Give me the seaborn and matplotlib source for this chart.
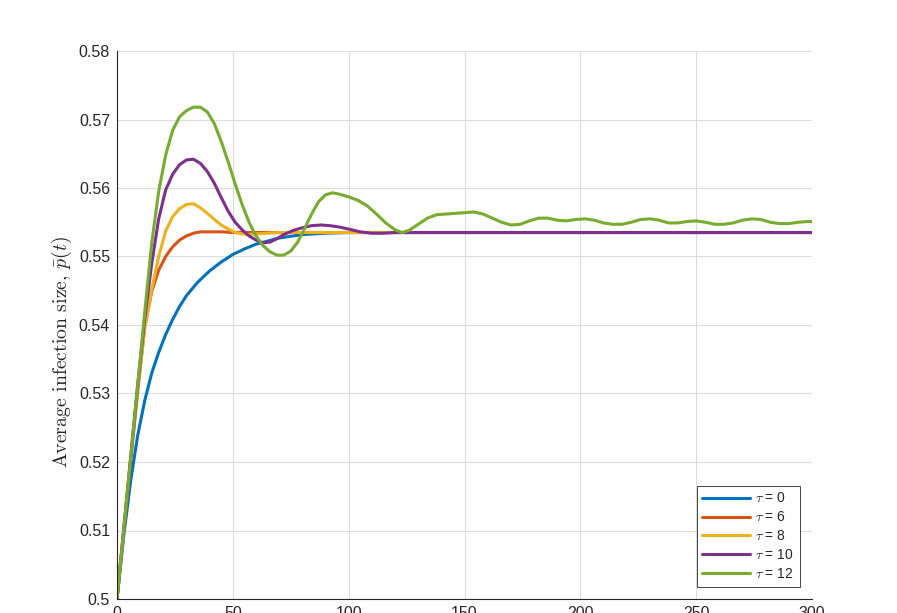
import numpy as np
import pandas as pd
import matplotlib
matplotlib.use("Agg")
import matplotlib.pyplot as plt
from matplotlib.ticker import FuncFormatter, MultipleLocator
import seaborn as sns

# Average infection size p(t) for different delays tau
t_tau0 = [0, 3, 6, 9, 12, 15, 18, 21, 24, 27, 30, 35, 40, 45, 50, 55, 60, 70, 80, 90, 100, 150, 200, 250, 300]
p_tau0 = [0.5000, 0.5095, 0.5175, 0.5240, 0.5290, 0.5330, 0.5360, 0.5386, 0.5408, 0.5427, 0.5443,
          0.5463, 0.5479, 0.5492, 0.5503, 0.5511, 0.5518, 0.5527, 0.5532, 0.5534, 0.5535,
          0.5535, 0.5535, 0.5535, 0.5535]

t_tau6 = [0, 3, 6, 9, 12, 15, 18, 21, 24, 27, 30, 33, 36, 40, 45, 50, 60, 100, 150, 200, 250, 300]
p_tau6 = [0.5000, 0.5102, 0.5204, 0.5305, 0.5398, 0.5449, 0.5480, 0.5500, 0.5514, 0.5524, 0.5530,
          0.5534, 0.5536, 0.5536, 0.5536, 0.5535, 0.5535, 0.5535, 0.5535, 0.5535, 0.5535, 0.5535]

t_tau8 = [0, 3, 6, 9, 12, 15, 18, 21, 24, 27, 30, 33, 36, 39, 42, 45, 48, 51, 54, 57, 60, 65, 70,
          100, 150, 200, 250, 300]
p_tau8 = [0.5000, 0.5105, 0.5210, 0.5310, 0.5395, 0.5452, 0.5500, 0.5537, 0.5558, 0.5570, 0.5576,
          0.5577, 0.5571, 0.5563, 0.5554, 0.5546, 0.5540, 0.5535, 0.5533, 0.5532, 0.5533, 0.5534,
          0.5535, 0.5535, 0.5535, 0.5535, 0.5535, 0.5535]

t_tau10 = [0, 3, 6, 9, 12, 15, 18, 21, 24, 27, 30, 33, 36, 39, 42, 45, 48, 51, 54, 57, 60, 63, 66,
           69, 72, 76, 80, 84, 88, 92, 96, 100, 105, 110, 115, 120, 130, 150, 200, 250, 300]
p_tau10 = [0.5000, 0.5105, 0.5210, 0.5315, 0.5410, 0.5490, 0.5555, 0.5597, 0.5620, 0.5634, 0.5641,
           0.5642, 0.5636, 0.5624, 0.5607, 0.5586, 0.5566, 0.5550, 0.5539, 0.5530, 0.5524, 0.5520,
           0.5521, 0.5526, 0.5532, 0.5538, 0.5542, 0.5545, 0.5546, 0.5545, 0.5543, 0.5540, 0.5536,
           0.5534, 0.5534, 0.5535, 0.5535, 0.5535, 0.5535, 0.5535, 0.5535]

t_tau12 = [0, 3, 6, 9, 12, 15, 18, 21, 24, 27, 30, 33, 36, 39, 42, 45, 48, 51, 54, 57, 60, 63, 66,
           69, 72, 75, 78, 81, 84, 87, 90, 93, 96, 100, 104, 108, 112, 116, 120, 123, 126, 130, 134,
           138, 142, 146, 150, 154, 158, 162, 166, 170, 174, 178, 182, 186, 190, 194, 198, 202, 206,
           210, 214, 218, 222, 226, 230, 234, 238, 242, 246, 250, 254, 258, 262, 266, 270, 274, 278,
           282, 286, 290, 294, 298, 300]
p_tau12 = [0.5000, 0.5105, 0.5210, 0.5315, 0.5420, 0.5520, 0.5595, 0.5648, 0.5684, 0.5704, 0.5713,
           0.5718, 0.5718, 0.5711, 0.5694, 0.5668, 0.5638, 0.5606, 0.5576, 0.5550, 0.5530, 0.5516,
           0.5507, 0.5502, 0.5502, 0.5508, 0.5521, 0.5541, 0.5562, 0.5580, 0.5590, 0.5593, 0.5591,
           0.5587, 0.5582, 0.5574, 0.5562, 0.5549, 0.5539, 0.5535, 0.5538, 0.5547, 0.5556, 0.5561,
           0.5562, 0.5563, 0.5564, 0.5565, 0.5562, 0.5556, 0.5550, 0.5546, 0.5547, 0.5552, 0.5556,
           0.5556, 0.5553, 0.5552, 0.5554, 0.5555, 0.5553, 0.5549, 0.5547, 0.5547, 0.5550, 0.5554,
           0.5555, 0.5553, 0.5549, 0.5549, 0.5551, 0.5552, 0.5550, 0.5547, 0.5547, 0.5549, 0.5553,
           0.5555, 0.5554, 0.5550, 0.5548, 0.5548, 0.5550, 0.5551, 0.5551]

labels = [r'$\tau$ = 0', r'$\tau$ = 6', r'$\tau$ = 8', r'$\tau$ = 10', r'$\tau$ = 12']
colors = ['#0072BD', '#D95319', '#EDB120', '#7E2F8E', '#77AC30']

series = [(t_tau0, p_tau0), (t_tau6, p_tau6), (t_tau8, p_tau8), (t_tau10, p_tau10), (t_tau12, p_tau12)]
frames = []
for lab, (tt, pp) in zip(labels, series):
    frames.append(pd.DataFrame({'t': tt, 'p': pp, 'tau': lab}))
df = pd.concat(frames, ignore_index=True)

sns.set_style('white')
plt.rcParams['font.family'] = ['Liberation Sans', 'DejaVu Sans']
plt.rcParams['mathtext.fontset'] = 'cm'

fig = plt.figure(figsize=(8.97, 6.13), dpi=100)
ax = fig.add_axes([117 / 897, 1 - 599 / 613, 695 / 897, 548 / 613])

sns.lineplot(data=df, x='t', y='p', hue='tau', palette=colors, hue_order=labels,
             linewidth=2.2, ax=ax, estimator=None, sort=False)

ax.set_xlim(0, 300)
ax.set_ylim(0.5, 0.58)
ax.xaxis.set_major_locator(MultipleLocator(50))
ax.yaxis.set_major_locator(MultipleLocator(0.01))
ax.yaxis.set_major_formatter(FuncFormatter(lambda v, pos: f'{v:g}'))
ax.grid(True, color='#dcdcdc', linewidth=0.8)
ax.set_axisbelow(True)

for side in ['top', 'right']:
    ax.spines[side].set_visible(False)
for side in ['left', 'bottom']:
    ax.spines[side].set_color('#262626')
    ax.spines[side].set_linewidth(0.8)
ax.tick_params(direction='in', length=5, width=0.8, color='#262626',
               labelcolor='#262626', labelsize=11.5, pad=5)

ax.set_xlabel('')
ax.set_ylabel(r'Average infection size, $\bar{p}(t)$', fontfamily='cmr10', fontsize=14.2)
ax.yaxis.set_label_coords(-0.062, 0.45)

leg = ax.legend(loc='lower right', fontsize=10, frameon=True, fancybox=False,
                edgecolor='#262626', framealpha=1, handlelength=3.4, labelspacing=0.35,
                borderpad=0.4, handletextpad=0.4, borderaxespad=0.9)
leg.get_frame().set_linewidth(0.6)

fig.savefig('out.png', dpi=100)
